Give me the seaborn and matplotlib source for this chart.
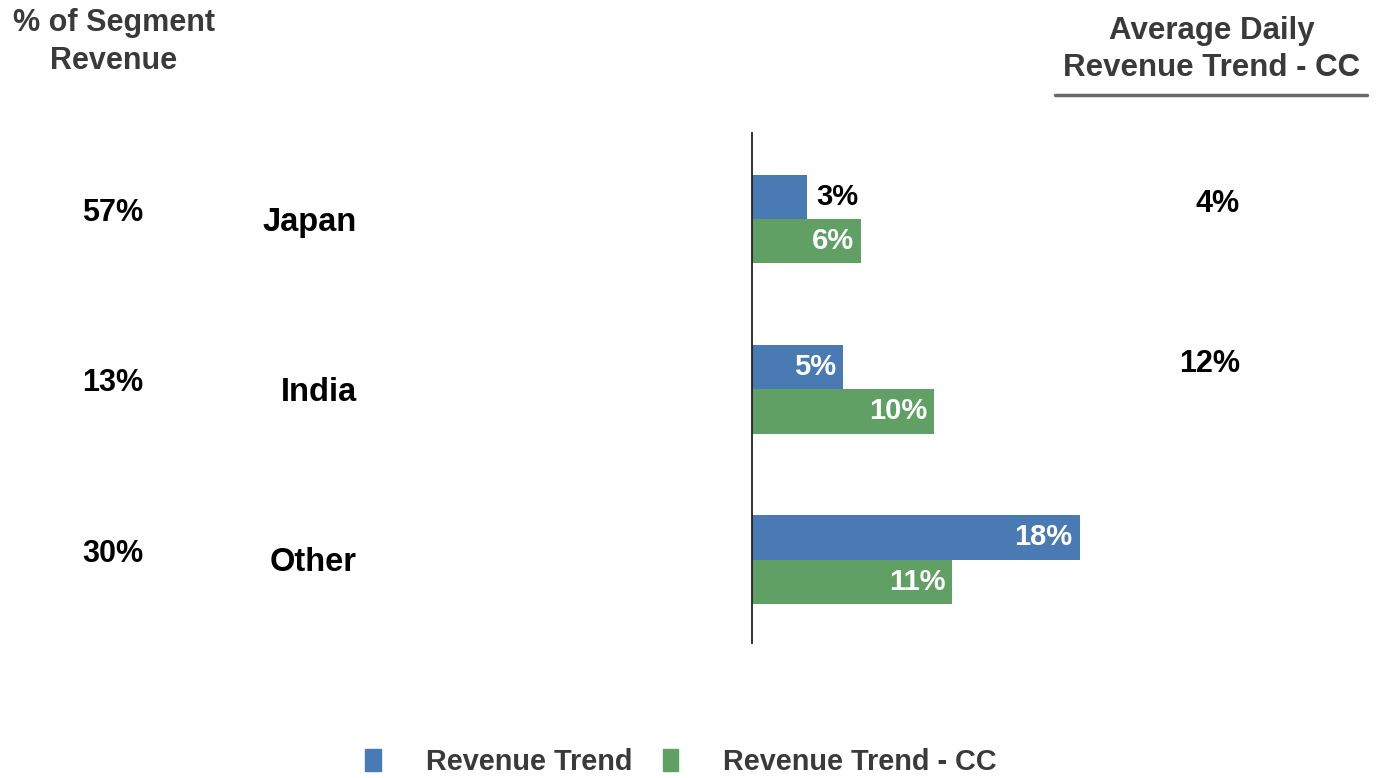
import pandas as pd
import matplotlib.pyplot as plt
import seaborn as sns
from matplotlib.transforms import blended_transform_factory

# chart data
regions = ["Japan", "India", "Other"]
series = ["Revenue Trend", "Revenue Trend - CC"]
revenue_trend = [3, 5, 18]
revenue_trend_cc = [6, 10, 11]
segment_share = ["57%", "13%", "30%"]
avg_daily_cc = ["4%", "12%", ""]

blue = "#4a7ab4"
green = "#61a064"
head_col = "#3a3a3a"

df = pd.DataFrame({
    "region": regions * 2,
    "series": [series[0]] * 3 + [series[1]] * 3,
    "value": revenue_trend + revenue_trend_cc,
})

sns.set_style("white")
plt.rcParams["font.family"] = ["Liberation Sans", "DejaVu Sans"]
plt.rcParams["font.weight"] = "bold"

W, H = 1382, 778
fig = plt.figure(figsize=(W / 100, H / 100), dpi=100)
ax = fig.add_axes([752 / W, 1 - 643 / H, 630 / W, 510 / H])

sns.barplot(data=df, y="region", x="value", hue="series", orient="h",
            palette=[blue, green], width=0.52, gap=0, legend=False, ax=ax,
            saturation=1, linewidth=0)

ax.set_xlim(0, 630 / 18.2)
ax.set_ylim(2.49, -0.506)
ax.set_xlabel("")
ax.set_ylabel("")
ax.set_xticks([])
ax.set_yticks([])
for s in ["top", "right", "bottom"]:
    ax.spines[s].set_visible(False)
ax.spines["left"].set_color("#222222")
ax.spines["left"].set_linewidth(1.3)

# bar value labels
for container in ax.containers:
    for bar in container:
        v = bar.get_width()
        yc = bar.get_y() + bar.get_height() / 2
        if v < 4:
            ax.annotate(f"{v:.0f}%", (v, yc), xytext=(7, 0), textcoords="offset points",
                        ha="left", va="center", fontsize=21, fontweight="bold", color="black")
        else:
            ax.annotate(f"{v:.0f}%", (v, yc), xytext=(-5, 0), textcoords="offset points",
                        ha="right", va="center", fontsize=21, fontweight="bold", color="white")

# side labels (figure x, data y)
tr = blended_transform_factory(fig.transFigure, ax.transData)
avg_offsets = [-0.09, -0.15, 0]
for i, r in enumerate(regions):
    fig.text(357 / W, i + 0.02, r, transform=tr, ha="right", va="center", fontsize=23.5,
             fontweight="bold", color="black")
    fig.text(143 / W, i - 0.035, segment_share[i], transform=tr, ha="right", va="center",
             fontsize=22, fontweight="bold", color="black")
    if avg_daily_cc[i]:
        fig.text(1240 / W, i + avg_offsets[i], avg_daily_cc[i], transform=tr, ha="right",
                 va="center", fontsize=22, fontweight="bold", color="black")

# headers
fig.text(114 / W, 1 - 23 / H, "% of Segment", ha="center", va="center",
         fontsize=22, fontweight="bold", color=head_col)
fig.text(114 / W, 1 - 61 / H, "Revenue", ha="center", va="center",
         fontsize=22, fontweight="bold", color=head_col)
fig.text(1212 / W, 1 - 31 / H, "Average Daily", ha="center", va="center",
         fontsize=22.5, fontweight="bold", color=head_col)
fig.text(1212 / W, 1 - 68 / H, "Revenue Trend - CC", ha="center", va="center",
         fontsize=22.5, fontweight="bold", color=head_col)
fig.add_artist(plt.Line2D([1055 / W, 1367 / W], [1 - 95 / H, 1 - 95 / H],
                          transform=fig.transFigure, color="#6a6a6a", linewidth=2.5))

# legend
handles = [plt.Rectangle((0, 0), 1, 1, color=blue), plt.Rectangle((0, 0), 1, 1, color=green)]
leg = fig.legend(handles, series, loc="center", bbox_to_anchor=(681 / W, 1 - 762 / H),
                 ncol=2, frameon=False, handlelength=0.55, handleheight=0.75,
                 handletextpad=1.55, columnspacing=1.05, prop={"weight": "bold", "size": 20.8})
for t in leg.get_texts():
    t.set_color(head_col)

fig.savefig("out.png", dpi=100)
